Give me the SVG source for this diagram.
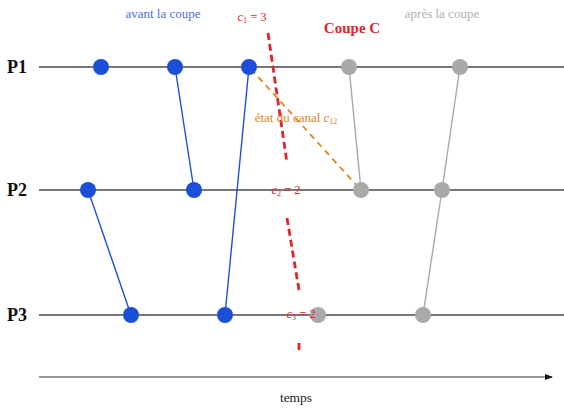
<svg xmlns="http://www.w3.org/2000/svg" width="564" height="409" viewBox="0 0 564 409">
<style>
text{font-family:"Liberation Serif","DejaVu Serif",serif}
.proc{stroke:#777;stroke-width:2;fill:none}
.blue{fill:#1c4fd8}
.gray{fill:#a9a9a9}
.mb{stroke:#1c4fd8;stroke-width:1.4;fill:none}
.mg{stroke:#a9a9a9;stroke-width:1.4;fill:none}
.cut{stroke:#e0242c;stroke-width:2.8;fill:none;stroke-dasharray:7 4}
.lbl{font-size:18px;font-weight:bold;fill:#111}
.red{fill:#e0242c;font-size:12.5px}
</style>
<defs>
<marker id="arr" markerWidth="8" markerHeight="8" refX="7" refY="4" orient="auto" markerUnits="userSpaceOnUse">
<path d="M0,1 L8,4 L0,7 Z" fill="#111"/>
</marker>
</defs>
<g id="processes">
<line class="proc" x1="39" y1="67" x2="564" y2="67"/>
<line class="proc" x1="39" y1="190" x2="564" y2="190"/>
<line class="proc" x1="39" y1="315" x2="564" y2="315"/>
<text class="lbl" x="7" y="73">P1</text>
<text class="lbl" x="7" y="196">P2</text>
<text class="lbl" x="7" y="321">P3</text>
</g>
<g id="connectors">
<line class="mb" x1="175" y1="67" x2="194" y2="190"/>
<line class="mb" x1="88" y1="190" x2="131" y2="315"/>
<line class="mb" x1="225" y1="315" x2="249" y2="67"/>
<line class="mg" x1="349" y1="67" x2="361" y2="190"/>
<line class="mg" x1="442" y1="190" x2="460" y2="67"/>
<line class="mg" x1="423" y1="315" x2="442" y2="190"/>
<line x1="251" y1="69" x2="359" y2="188" stroke="#e0861a" stroke-width="1.8" stroke-dasharray="6 5"/>
</g>
<g id="events-before">
<circle class="blue" cx="101" cy="67" r="8"/>
<circle class="blue" cx="175" cy="67" r="8"/>
<circle class="blue" cx="249" cy="67" r="8"/>
<circle class="blue" cx="88" cy="190" r="8"/>
<circle class="blue" cx="194" cy="190" r="8"/>
<circle class="blue" cx="131" cy="315" r="8"/>
<circle class="blue" cx="225" cy="315" r="8"/>
</g>
<g id="events-after">
<circle class="gray" cx="349" cy="67" r="8"/>
<circle class="gray" cx="460" cy="67" r="8"/>
<circle class="gray" cx="361" cy="190" r="8"/>
<circle class="gray" cx="442" cy="190" r="8"/>
<circle class="gray" cx="318" cy="315" r="8"/>
<circle class="gray" cx="423" cy="315" r="8"/>
</g>
<g id="cut">
<line class="cut" x1="268" y1="33" x2="287" y2="163"/>
<line class="cut" x1="287" y1="218" x2="299" y2="290" stroke-dasharray="5 5"/>
<line class="cut" x1="299" y1="343" x2="299" y2="350"/>
<text x="352" y="33" text-anchor="middle" font-size="15" font-weight="bold" fill="#e0242c">Coupe C</text>
<text class="red" x="252" y="21" text-anchor="middle"><tspan font-style="italic">c</tspan><tspan font-size="8" dy="2">1</tspan><tspan dy="-2"> = 3</tspan></text>
<text class="red" x="286" y="194" text-anchor="middle"><tspan font-style="italic">c</tspan><tspan font-size="8" dy="2">2</tspan><tspan dy="-2"> = 2</tspan></text>
<text class="red" x="301" y="318" text-anchor="middle"><tspan font-style="italic">c</tspan><tspan font-size="8" dy="2">3</tspan><tspan dy="-2"> = 2</tspan></text>
</g>
<g id="labels">
<text x="163" y="18" text-anchor="middle" font-size="13" fill="#4a6fe3">avant la coupe</text>
<text x="442" y="18" text-anchor="middle" font-size="13" fill="#b0b0b0">après la coupe</text>
<text x="296" y="122" text-anchor="middle" font-size="13" fill="#e0861a">état du canal <tspan font-style="italic">c</tspan><tspan font-size="8" dy="2">12</tspan></text>
</g>
<g id="time-axis">
<line x1="39" y1="377" x2="552" y2="377" stroke="#333" stroke-width="1.2" marker-end="url(#arr)"/>
<text x="296" y="402" text-anchor="middle" font-size="13.5" fill="#222">temps</text>
</g>
</svg>
